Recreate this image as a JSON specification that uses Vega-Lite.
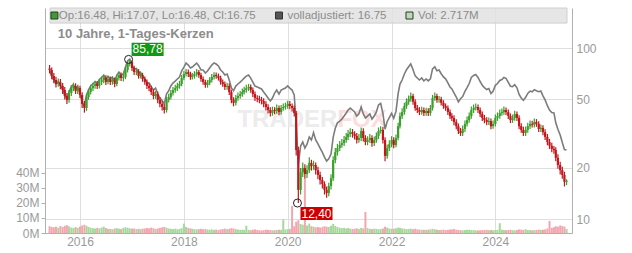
{
"$schema": "https://vega.github.io/schema/vega-lite/v6.json",
"width": 527, "height": 225,
"autosize": {"type": "none"},
"padding": {"left": 45, "top": 8, "right": 60, "bottom": 20},
"background": "white",
"config": {"font": "Liberation Sans", "view": {"stroke": null},
  "axis": {"labelFont": "Liberation Sans", "labelFontSize": 12, "labelColor": "#9a9a9a", "domainColor": "#b0b0b0", "tickColor": "#b0b0b0", "gridColor": "#dedede", "title": null}},
"data": {"values": [
{"d":"2015-06-01","o":76.0,"h":79.6,"l":71.0,"c":74.4,"a":74.4,"v":4.5},
{"d":"2015-06-16","o":74.4,"h":77.0,"l":65.7,"c":68.6,"a":68.6,"v":4.0},
{"d":"2015-07-01","o":68.6,"h":71.4,"l":62.2,"c":65.0,"a":65.0,"v":3.8},
{"d":"2015-07-16","o":65.0,"h":67.8,"l":58.8,"c":61.6,"a":61.8,"v":4.2},
{"d":"2015-08-01","o":61.6,"h":66.3,"l":59.3,"c":63.3,"a":63.6,"v":3.5},
{"d":"2015-08-16","o":63.3,"h":65.8,"l":57.3,"c":60.0,"a":60.6,"v":4.6},
{"d":"2015-09-01","o":60.0,"h":62.4,"l":53.9,"c":56.8,"a":57.5,"v":4.0},
{"d":"2015-09-16","o":56.8,"h":59.2,"l":50.0,"c":52.4,"a":53.1,"v":4.8},
{"d":"2015-10-01","o":52.4,"h":54.6,"l":47.0,"c":49.7,"a":50.4,"v":5.2},
{"d":"2015-10-16","o":49.7,"h":56.9,"l":47.8,"c":54.6,"a":55.4,"v":4.4},
{"d":"2015-11-01","o":54.6,"h":60.7,"l":52.4,"c":58.3,"a":59.4,"v":3.6},
{"d":"2015-11-16","o":58.3,"h":62.7,"l":55.9,"c":60.0,"a":61.2,"v":3.3},
{"d":"2015-12-01","o":60.0,"h":62.2,"l":53.9,"c":56.0,"a":57.2,"v":3.9},
{"d":"2015-12-16","o":56.0,"h":61.0,"l":53.9,"c":58.3,"a":59.5,"v":3.4},
{"d":"2016-01-01","o":58.3,"h":60.2,"l":51.0,"c":53.1,"a":54.2,"v":4.2},
{"d":"2016-01-16","o":53.1,"h":55.1,"l":44.6,"c":47.1,"a":48.2,"v":5.0},
{"d":"2016-02-01","o":47.1,"h":49.0,"l":41.9,"c":44.6,"a":45.8,"v":5.5},
{"d":"2016-02-16","o":44.6,"h":53.9,"l":42.9,"c":51.7,"a":53.1,"v":4.8},
{"d":"2016-03-01","o":51.7,"h":57.6,"l":49.8,"c":55.3,"a":56.9,"v":4.0},
{"d":"2016-03-16","o":55.3,"h":61.0,"l":53.4,"c":58.3,"a":60.0,"v":3.5},
{"d":"2016-04-01","o":58.3,"h":62.7,"l":56.1,"c":60.0,"a":61.8,"v":3.2},
{"d":"2016-04-16","o":60.0,"h":64.3,"l":57.8,"c":61.6,"a":63.5,"v":3.0},
{"d":"2016-05-01","o":61.6,"h":64.1,"l":57.6,"c":60.0,"a":61.9,"v":3.4},
{"d":"2016-05-16","o":60.0,"h":66.1,"l":58.0,"c":63.3,"a":65.3,"v":3.1},
{"d":"2016-06-01","o":63.3,"h":67.8,"l":60.8,"c":65.0,"a":67.4,"v":3.6},
{"d":"2016-06-16","o":65.0,"h":69.9,"l":62.2,"c":66.8,"a":69.3,"v":4.2},
{"d":"2016-07-01","o":66.8,"h":69.2,"l":60.8,"c":63.3,"a":65.7,"v":3.3},
{"d":"2016-07-16","o":63.3,"h":68.5,"l":61.3,"c":65.9,"a":68.4,"v":2.8},
{"d":"2016-08-01","o":65.9,"h":68.1,"l":60.8,"c":63.3,"a":65.8,"v":2.7},
{"d":"2016-08-16","o":63.3,"h":67.8,"l":61.0,"c":65.0,"a":67.6,"v":2.5},
{"d":"2016-09-01","o":65.0,"h":67.3,"l":59.0,"c":61.6,"a":64.1,"v":3.0},
{"d":"2016-09-16","o":61.6,"h":69.6,"l":59.8,"c":66.8,"a":69.5,"v":3.2},
{"d":"2016-10-01","o":66.8,"h":72.4,"l":64.5,"c":69.5,"a":72.3,"v":2.9},
{"d":"2016-10-16","o":69.5,"h":71.9,"l":64.2,"c":66.8,"a":69.5,"v":2.6},
{"d":"2016-11-01","o":66.8,"h":70.9,"l":63.7,"c":67.7,"a":70.5,"v":3.4},
{"d":"2016-11-16","o":67.7,"h":77.5,"l":65.7,"c":74.4,"a":77.4,"v":3.8},
{"d":"2016-12-01","o":74.4,"h":84.0,"l":72.0,"c":80.6,"a":83.9,"v":3.5},
{"d":"2016-12-16","o":80.6,"h":85.78,"l":77.9,"c":82.8,"a":86.2,"v":3.1},
{"d":"2017-01-01","o":82.8,"h":84.5,"l":73.5,"c":76.4,"a":79.5,"v":2.9},
{"d":"2017-01-16","o":76.4,"h":78.7,"l":69.6,"c":72.3,"a":75.3,"v":3.0},
{"d":"2017-02-01","o":72.3,"h":76.0,"l":69.4,"c":73.0,"a":76.0,"v":2.6},
{"d":"2017-02-16","o":73.0,"h":75.3,"l":66.2,"c":68.6,"a":71.4,"v":2.8},
{"d":"2017-03-01","o":68.6,"h":72.4,"l":66.4,"c":69.5,"a":72.3,"v":2.5},
{"d":"2017-03-16","o":69.5,"h":71.6,"l":63.5,"c":65.9,"a":68.6,"v":2.9},
{"d":"2017-04-01","o":65.9,"h":68.1,"l":61.0,"c":63.3,"a":66.1,"v":3.0},
{"d":"2017-04-16","o":63.3,"h":65.5,"l":57.6,"c":60.0,"a":62.9,"v":3.3},
{"d":"2017-05-01","o":60.0,"h":62.2,"l":55.9,"c":58.3,"a":62.4,"v":3.1},
{"d":"2017-05-16","o":58.3,"h":60.2,"l":53.1,"c":55.3,"a":59.5,"v":3.6},
{"d":"2017-06-01","o":55.3,"h":57.3,"l":50.2,"c":52.4,"a":56.8,"v":3.2},
{"d":"2017-06-16","o":52.4,"h":56.1,"l":50.5,"c":53.8,"a":58.3,"v":2.7},
{"d":"2017-07-01","o":53.8,"h":55.6,"l":47.5,"c":49.7,"a":53.9,"v":3.0},
{"d":"2017-07-16","o":49.7,"h":51.5,"l":45.1,"c":47.1,"a":51.1,"v":3.4},
{"d":"2017-08-01","o":47.1,"h":49.0,"l":43.1,"c":45.2,"a":49.2,"v":3.8},
{"d":"2017-08-16","o":45.2,"h":46.9,"l":41.4,"c":43.4,"a":47.2,"v":4.1},
{"d":"2017-09-01","o":43.4,"h":51.8,"l":41.9,"c":49.7,"a":54.0,"v":3.5},
{"d":"2017-09-16","o":49.7,"h":54.1,"l":48.0,"c":51.7,"a":56.2,"v":3.0},
{"d":"2017-10-01","o":51.7,"h":56.9,"l":50.0,"c":54.6,"a":60.0,"v":2.8},
{"d":"2017-10-16","o":54.6,"h":59.2,"l":52.7,"c":56.8,"a":62.4,"v":2.6},
{"d":"2017-11-01","o":56.8,"h":61.0,"l":54.7,"c":58.3,"a":64.1,"v":2.9},
{"d":"2017-11-16","o":58.3,"h":62.7,"l":56.1,"c":60.0,"a":65.9,"v":2.5},
{"d":"2017-12-01","o":60.0,"h":64.3,"l":57.8,"c":61.6,"a":67.7,"v":2.7},
{"d":"2017-12-16","o":61.6,"h":69.6,"l":59.8,"c":66.8,"a":73.4,"v":3.2},
{"d":"2018-01-01","o":66.8,"h":73.4,"l":64.7,"c":70.4,"a":77.4,"v":6.2},
{"d":"2018-01-16","o":70.4,"h":75.5,"l":68.1,"c":72.3,"a":81.6,"v":4.0},
{"d":"2018-02-01","o":72.3,"h":75.0,"l":67.6,"c":70.4,"a":79.5,"v":3.4},
{"d":"2018-02-16","o":70.4,"h":72.6,"l":65.2,"c":67.7,"a":76.4,"v":3.0},
{"d":"2018-03-01","o":67.7,"h":71.4,"l":65.5,"c":68.6,"a":77.4,"v":2.8},
{"d":"2018-03-16","o":68.6,"h":73.2,"l":66.2,"c":70.4,"a":79.5,"v":2.6},
{"d":"2018-04-01","o":70.4,"h":75.3,"l":67.8,"c":72.3,"a":81.6,"v":2.4},
{"d":"2018-04-16","o":72.3,"h":74.5,"l":67.1,"c":69.5,"a":78.5,"v":2.6},
{"d":"2018-05-01","o":69.5,"h":71.6,"l":63.5,"c":65.9,"a":74.4,"v":2.8},
{"d":"2018-05-16","o":65.9,"h":68.1,"l":61.0,"c":63.3,"a":74.4,"v":2.5},
{"d":"2018-06-01","o":63.3,"h":65.3,"l":58.6,"c":60.8,"a":71.4,"v":2.7},
{"d":"2018-06-16","o":60.8,"h":65.1,"l":58.6,"c":62.5,"a":73.4,"v":2.3},
{"d":"2018-07-01","o":62.5,"h":67.5,"l":60.6,"c":65.0,"a":76.4,"v":2.2},
{"d":"2018-07-16","o":65.0,"h":70.4,"l":62.9,"c":67.7,"a":79.5,"v":2.4},
{"d":"2018-08-01","o":67.7,"h":72.2,"l":65.5,"c":69.5,"a":81.7,"v":2.1},
{"d":"2018-08-16","o":69.5,"h":71.9,"l":66.2,"c":68.6,"a":80.6,"v":2.3},
{"d":"2018-09-01","o":68.6,"h":70.9,"l":64.5,"c":66.8,"a":78.5,"v":2.0},
{"d":"2018-09-16","o":66.8,"h":68.9,"l":61.0,"c":63.3,"a":74.4,"v":2.4},
{"d":"2018-10-01","o":63.3,"h":65.5,"l":59.3,"c":61.6,"a":72.4,"v":2.6},
{"d":"2018-10-16","o":61.6,"h":63.8,"l":56.8,"c":59.2,"a":69.6,"v":2.9},
{"d":"2018-11-01","o":59.2,"h":62.7,"l":57.0,"c":60.0,"a":70.5,"v":2.5},
{"d":"2018-11-16","o":60.0,"h":62.0,"l":53.1,"c":55.3,"a":65.0,"v":2.8},
{"d":"2018-12-01","o":55.3,"h":57.1,"l":47.5,"c":49.7,"a":58.4,"v":3.2},
{"d":"2018-12-16","o":49.7,"h":51.5,"l":45.6,"c":47.8,"a":56.2,"v":3.0},
{"d":"2019-01-01","o":47.8,"h":53.2,"l":46.1,"c":51.0,"a":59.9,"v":2.6},
{"d":"2019-01-16","o":51.0,"h":54.9,"l":49.2,"c":52.4,"a":61.6,"v":2.3},
{"d":"2019-02-01","o":52.4,"h":56.1,"l":50.5,"c":53.8,"a":63.2,"v":2.1},
{"d":"2019-02-16","o":53.8,"h":57.9,"l":51.9,"c":55.3,"a":65.0,"v":2.2},
{"d":"2019-03-01","o":55.3,"h":59.4,"l":53.4,"c":56.8,"a":66.7,"v":2.0},
{"d":"2019-03-16","o":56.8,"h":61.0,"l":54.7,"c":58.3,"a":68.5,"v":4.8},
{"d":"2019-04-01","o":58.3,"h":61.7,"l":56.1,"c":59.2,"a":69.6,"v":2.1},
{"d":"2019-04-16","o":59.2,"h":61.2,"l":54.7,"c":56.8,"a":66.7,"v":1.9},
{"d":"2019-05-01","o":56.8,"h":58.7,"l":51.7,"c":53.8,"a":63.2,"v":2.2},
{"d":"2019-05-16","o":53.8,"h":55.6,"l":49.0,"c":51.0,"a":59.9,"v":2.4},
{"d":"2019-06-01","o":51.0,"h":53.0,"l":48.2,"c":50.4,"a":59.2,"v":2.0},
{"d":"2019-06-16","o":50.4,"h":52.5,"l":47.5,"c":49.7,"a":58.4,"v":1.8},
{"d":"2019-07-01","o":49.7,"h":51.8,"l":46.8,"c":49.0,"a":57.6,"v":1.7},
{"d":"2019-07-16","o":49.0,"h":50.8,"l":45.1,"c":47.1,"a":55.3,"v":1.9},
{"d":"2019-08-01","o":47.1,"h":48.8,"l":43.1,"c":45.2,"a":53.1,"v":2.2},
{"d":"2019-08-16","o":45.2,"h":46.9,"l":41.4,"c":43.4,"a":51.0,"v":2.1},
{"d":"2019-09-01","o":43.4,"h":45.1,"l":39.8,"c":41.7,"a":49.0,"v":2.0},
{"d":"2019-09-16","o":41.7,"h":45.4,"l":40.2,"c":43.4,"a":51.0,"v":1.8},
{"d":"2019-10-01","o":43.4,"h":45.1,"l":41.0,"c":42.8,"a":54.5,"v":1.9},
{"d":"2019-10-16","o":42.8,"h":46.7,"l":41.2,"c":44.6,"a":56.8,"v":2.0},
{"d":"2019-11-01","o":44.6,"h":46.1,"l":40.4,"c":42.2,"a":53.8,"v":2.2},
{"d":"2019-11-16","o":42.2,"h":46.5,"l":40.7,"c":44.6,"a":56.8,"v":2.1},
{"d":"2019-12-01","o":44.6,"h":47.3,"l":42.9,"c":45.2,"a":57.6,"v":9.0},
{"d":"2019-12-16","o":45.2,"h":47.9,"l":43.6,"c":45.8,"a":58.3,"v":2.4},
{"d":"2020-01-01","o":45.8,"h":49.2,"l":44.1,"c":47.1,"a":60.0,"v":2.5},
{"d":"2020-01-16","o":47.1,"h":49.0,"l":43.9,"c":45.8,"a":58.3,"v":2.7},
{"d":"2020-02-01","o":45.8,"h":47.4,"l":42.6,"c":44.6,"a":56.8,"v":18.0},
{"d":"2020-02-16","o":44.6,"h":46.1,"l":39.7,"c":41.7,"a":53.1,"v":4.5},
{"d":"2020-03-01","o":41.7,"h":42.8,"l":23.5,"c":25.3,"a":36.0,"v":7.5},
{"d":"2020-03-16","o":25.3,"h":26.5,"l":12.4,"c":14.8,"a":21.0,"v":8.5},
{"d":"2020-04-01","o":14.8,"h":19.9,"l":13.9,"c":18.8,"a":26.7,"v":6.0},
{"d":"2020-04-16","o":18.8,"h":21.4,"l":17.6,"c":19.9,"a":28.2,"v":5.5},
{"d":"2020-05-01","o":19.9,"h":20.9,"l":17.2,"c":18.3,"a":26.0,"v":36.0},
{"d":"2020-05-16","o":18.3,"h":20.6,"l":17.4,"c":19.3,"a":27.4,"v":5.0},
{"d":"2020-06-01","o":19.3,"h":23.0,"l":18.6,"c":21.3,"a":30.2,"v":6.2},
{"d":"2020-06-16","o":21.3,"h":22.2,"l":19.2,"c":20.4,"a":29.0,"v":4.5},
{"d":"2020-07-01","o":20.4,"h":21.9,"l":19.4,"c":20.7,"a":32.0,"v":4.2},
{"d":"2020-07-16","o":20.7,"h":21.4,"l":18.2,"c":19.3,"a":29.0,"v":3.8},
{"d":"2020-08-01","o":19.3,"h":20.2,"l":17.1,"c":18.1,"a":27.5,"v":4.0},
{"d":"2020-08-16","o":18.1,"h":18.9,"l":15.9,"c":16.9,"a":26.0,"v":3.6},
{"d":"2020-09-01","o":16.9,"h":17.6,"l":15.1,"c":16.0,"a":24.5,"v":3.9},
{"d":"2020-09-16","o":16.0,"h":16.6,"l":13.9,"c":14.8,"a":23.0,"v":4.5},
{"d":"2020-10-01","o":14.8,"h":15.5,"l":13.3,"c":14.2,"a":21.8,"v":4.2},
{"d":"2020-10-16","o":14.2,"h":16.3,"l":13.6,"c":15.6,"a":22.5,"v":4.0},
{"d":"2020-11-01","o":15.6,"h":18.3,"l":14.9,"c":17.3,"a":24.0,"v":4.8},
{"d":"2020-11-16","o":17.3,"h":23.3,"l":16.7,"c":22.1,"a":30.0,"v":6.0},
{"d":"2020-12-01","o":22.1,"h":26.0,"l":21.2,"c":24.6,"a":34.0,"v":4.6},
{"d":"2020-12-16","o":24.6,"h":27.5,"l":23.5,"c":26.0,"a":36.5,"v":3.9},
{"d":"2021-01-01","o":26.0,"h":28.6,"l":25.0,"c":27.1,"a":37.4,"v":3.5},
{"d":"2021-01-16","o":27.1,"h":29.4,"l":26.1,"c":27.8,"a":38.4,"v":3.2},
{"d":"2021-02-01","o":27.8,"h":30.6,"l":26.7,"c":29.0,"a":40.0,"v":3.4},
{"d":"2021-02-16","o":29.0,"h":31.8,"l":27.9,"c":30.2,"a":41.7,"v":3.0},
{"d":"2021-03-01","o":30.2,"h":33.2,"l":29.0,"c":31.4,"a":43.4,"v":3.3},
{"d":"2021-03-16","o":31.4,"h":34.0,"l":30.2,"c":32.2,"a":44.5,"v":2.9},
{"d":"2021-04-01","o":32.2,"h":33.6,"l":29.9,"c":31.4,"a":43.4,"v":2.7},
{"d":"2021-04-16","o":31.4,"h":32.6,"l":29.2,"c":30.6,"a":42.3,"v":2.8},
{"d":"2021-05-01","o":30.6,"h":31.8,"l":27.6,"c":29.0,"a":40.0,"v":3.1},
{"d":"2021-05-16","o":29.0,"h":31.4,"l":27.9,"c":29.8,"a":41.2,"v":2.6},
{"d":"2021-06-01","o":29.8,"h":34.3,"l":28.6,"c":32.7,"a":45.2,"v":3.4},
{"d":"2021-06-16","o":32.7,"h":33.9,"l":28.4,"c":29.8,"a":41.2,"v":3.0},
{"d":"2021-07-01","o":29.8,"h":30.9,"l":27.0,"c":28.2,"a":39.0,"v":14.0},
{"d":"2021-07-16","o":28.2,"h":30.5,"l":27.0,"c":29.0,"a":40.0,"v":3.2},
{"d":"2021-08-01","o":29.0,"h":31.4,"l":27.8,"c":29.8,"a":41.2,"v":2.8},
{"d":"2021-08-16","o":29.8,"h":30.9,"l":26.5,"c":27.8,"a":38.4,"v":2.6},
{"d":"2021-09-01","o":27.8,"h":30.4,"l":26.7,"c":29.0,"a":40.0,"v":2.9},
{"d":"2021-09-16","o":29.0,"h":32.1,"l":27.9,"c":30.6,"a":42.3,"v":2.7},
{"d":"2021-10-01","o":30.6,"h":34.3,"l":29.4,"c":32.7,"a":46.5,"v":2.5},
{"d":"2021-10-16","o":32.7,"h":34.9,"l":31.6,"c":33.2,"a":47.5,"v":2.6},
{"d":"2021-11-01","o":33.2,"h":34.5,"l":27.6,"c":29.0,"a":41.5,"v":3.0},
{"d":"2021-11-16","o":29.0,"h":30.1,"l":21.8,"c":23.4,"a":33.5,"v":4.2},
{"d":"2021-12-01","o":23.4,"h":27.3,"l":22.5,"c":26.0,"a":37.2,"v":3.6},
{"d":"2021-12-16","o":26.0,"h":28.9,"l":25.0,"c":27.4,"a":39.2,"v":3.0},
{"d":"2022-01-01","o":27.4,"h":30.5,"l":26.3,"c":29.0,"a":41.5,"v":2.8},
{"d":"2022-01-16","o":29.0,"h":30.1,"l":25.9,"c":27.1,"a":38.8,"v":2.9},
{"d":"2022-02-01","o":27.1,"h":31.2,"l":26.3,"c":29.8,"a":42.6,"v":3.1},
{"d":"2022-02-16","o":29.8,"h":36.5,"l":28.9,"c":34.9,"a":54.1,"v":3.6},
{"d":"2022-03-01","o":34.9,"h":42.0,"l":33.8,"c":40.0,"a":61.5,"v":3.4},
{"d":"2022-03-16","o":40.0,"h":44.4,"l":38.4,"c":42.2,"a":65.0,"v":3.0},
{"d":"2022-04-01","o":42.2,"h":47.9,"l":40.7,"c":45.8,"a":70.5,"v":2.8},
{"d":"2022-04-16","o":45.8,"h":50.8,"l":44.1,"c":48.5,"a":74.7,"v":2.6},
{"d":"2022-05-01","o":48.5,"h":52.8,"l":46.6,"c":50.4,"a":77.6,"v":2.7},
{"d":"2022-05-16","o":50.4,"h":54.9,"l":48.5,"c":52.4,"a":80.7,"v":2.9},
{"d":"2022-06-01","o":52.4,"h":54.1,"l":46.6,"c":48.5,"a":74.7,"v":2.5},
{"d":"2022-06-16","o":48.5,"h":50.2,"l":42.9,"c":44.6,"a":68.7,"v":2.8},
{"d":"2022-07-01","o":44.6,"h":46.4,"l":41.7,"c":43.4,"a":66.8,"v":2.4},
{"d":"2022-07-16","o":43.4,"h":45.1,"l":40.5,"c":42.2,"a":65.0,"v":2.3},
{"d":"2022-08-01","o":42.2,"h":45.4,"l":40.7,"c":43.4,"a":66.8,"v":2.1},
{"d":"2022-08-16","o":43.4,"h":44.9,"l":40.0,"c":41.7,"a":64.2,"v":2.2},
{"d":"2022-09-01","o":41.7,"h":44.7,"l":40.2,"c":42.8,"a":65.9,"v":2.0},
{"d":"2022-09-16","o":42.8,"h":44.4,"l":40.0,"c":41.7,"a":64.2,"v":2.3},
{"d":"2022-10-01","o":41.7,"h":46.5,"l":40.2,"c":44.6,"a":66.0,"v":2.4},
{"d":"2022-10-16","o":44.6,"h":53.2,"l":43.1,"c":51.0,"a":75.5,"v":2.8},
{"d":"2022-11-01","o":51.0,"h":54.9,"l":49.2,"c":52.4,"a":77.6,"v":2.5},
{"d":"2022-11-16","o":52.4,"h":54.1,"l":47.8,"c":49.7,"a":73.6,"v":2.2},
{"d":"2022-12-01","o":49.7,"h":52.4,"l":47.8,"c":50.2,"a":74.3,"v":2.0},
{"d":"2022-12-16","o":50.2,"h":51.8,"l":46.1,"c":47.8,"a":70.7,"v":2.1},
{"d":"2023-01-01","o":47.8,"h":49.5,"l":44.1,"c":45.8,"a":67.8,"v":2.2},
{"d":"2023-01-16","o":45.8,"h":47.4,"l":42.9,"c":44.6,"a":66.0,"v":2.0},
{"d":"2023-02-01","o":44.6,"h":46.1,"l":40.6,"c":42.2,"a":62.5,"v":2.1},
{"d":"2023-02-16","o":42.2,"h":43.7,"l":38.4,"c":40.0,"a":59.2,"v":2.3},
{"d":"2023-03-01","o":40.0,"h":41.6,"l":37.4,"c":39.0,"a":57.7,"v":2.4},
{"d":"2023-03-16","o":39.0,"h":40.4,"l":35.3,"c":36.9,"a":54.6,"v":2.6},
{"d":"2023-04-01","o":36.9,"h":38.3,"l":33.5,"c":34.9,"a":51.7,"v":2.2},
{"d":"2023-04-16","o":34.9,"h":36.2,"l":31.4,"c":32.7,"a":48.4,"v":2.0},
{"d":"2023-05-01","o":32.7,"h":34.1,"l":30.6,"c":31.8,"a":50.5,"v":1.9},
{"d":"2023-05-16","o":31.8,"h":35.2,"l":30.6,"c":33.6,"a":52.0,"v":1.8},
{"d":"2023-06-01","o":33.6,"h":37.7,"l":32.3,"c":36.0,"a":55.8,"v":2.0},
{"d":"2023-06-16","o":36.0,"h":39.8,"l":34.7,"c":37.9,"a":58.7,"v":2.1},
{"d":"2023-07-01","o":37.9,"h":42.0,"l":36.5,"c":40.0,"a":62.0,"v":2.2},
{"d":"2023-07-16","o":40.0,"h":45.5,"l":38.6,"c":43.4,"a":67.3,"v":2.0},
{"d":"2023-08-01","o":43.4,"h":46.7,"l":41.7,"c":44.6,"a":69.1,"v":1.9},
{"d":"2023-08-16","o":44.6,"h":47.4,"l":43.1,"c":45.2,"a":70.0,"v":1.8},
{"d":"2023-09-01","o":45.2,"h":46.7,"l":41.7,"c":43.4,"a":67.3,"v":1.7},
{"d":"2023-09-16","o":43.4,"h":44.9,"l":39.5,"c":41.1,"a":63.7,"v":1.8},
{"d":"2023-10-01","o":41.1,"h":42.6,"l":37.4,"c":39.0,"a":60.5,"v":1.9},
{"d":"2023-10-16","o":39.0,"h":40.6,"l":36.3,"c":37.9,"a":58.7,"v":2.0},
{"d":"2023-11-01","o":37.9,"h":39.4,"l":35.4,"c":36.9,"a":57.2,"v":2.1},
{"d":"2023-11-16","o":36.9,"h":39.2,"l":35.5,"c":37.4,"a":58.0,"v":1.9},
{"d":"2023-12-01","o":37.4,"h":38.7,"l":33.5,"c":34.9,"a":54.1,"v":2.0},
{"d":"2023-12-16","o":34.9,"h":37.7,"l":33.7,"c":36.0,"a":55.8,"v":1.8},
{"d":"2024-01-01","o":36.0,"h":40.8,"l":34.8,"c":39.0,"a":60.5,"v":2.0},
{"d":"2024-01-16","o":39.0,"h":42.0,"l":37.5,"c":40.0,"a":62.0,"v":2.1},
{"d":"2024-02-01","o":40.0,"h":43.7,"l":38.6,"c":41.7,"a":64.6,"v":6.5},
{"d":"2024-02-16","o":41.7,"h":44.3,"l":40.2,"c":42.2,"a":65.4,"v":2.2},
{"d":"2024-03-01","o":42.2,"h":45.5,"l":40.7,"c":43.4,"a":67.3,"v":2.0},
{"d":"2024-03-16","o":43.4,"h":44.9,"l":40.6,"c":42.2,"a":66.5,"v":1.9},
{"d":"2024-04-01","o":42.2,"h":43.7,"l":38.4,"c":40.0,"a":63.0,"v":2.0},
{"d":"2024-04-16","o":40.0,"h":41.4,"l":36.4,"c":37.9,"a":59.8,"v":2.2},
{"d":"2024-05-01","o":37.9,"h":40.8,"l":36.5,"c":39.0,"a":59.5,"v":1.9},
{"d":"2024-05-16","o":39.0,"h":43.0,"l":37.6,"c":41.1,"a":61.0,"v":1.8},
{"d":"2024-06-01","o":41.1,"h":42.6,"l":37.4,"c":39.0,"a":58.5,"v":2.0},
{"d":"2024-06-16","o":39.0,"h":40.4,"l":33.5,"c":34.9,"a":53.5,"v":2.4},
{"d":"2024-07-01","o":34.9,"h":36.3,"l":31.9,"c":33.2,"a":51.0,"v":2.2},
{"d":"2024-07-16","o":33.2,"h":34.6,"l":30.6,"c":31.8,"a":49.5,"v":2.1},
{"d":"2024-08-01","o":31.8,"h":34.8,"l":30.6,"c":33.2,"a":51.5,"v":2.5},
{"d":"2024-08-16","o":33.2,"h":36.5,"l":31.9,"c":34.9,"a":54.3,"v":2.0},
{"d":"2024-09-01","o":34.9,"h":37.7,"l":33.6,"c":36.0,"a":56.0,"v":1.9},
{"d":"2024-09-16","o":36.0,"h":37.5,"l":34.3,"c":35.6,"a":55.5,"v":1.8},
{"d":"2024-10-01","o":35.6,"h":38.7,"l":34.3,"c":36.9,"a":57.0,"v":1.9},
{"d":"2024-10-16","o":36.9,"h":38.4,"l":34.6,"c":36.0,"a":56.2,"v":2.0},
{"d":"2024-11-01","o":36.0,"h":37.3,"l":32.3,"c":33.6,"a":55.5,"v":2.3},
{"d":"2024-11-16","o":33.6,"h":35.7,"l":32.3,"c":34.1,"a":56.0,"v":2.1},
{"d":"2024-12-01","o":34.1,"h":35.4,"l":30.9,"c":32.2,"a":52.5,"v":2.2},
{"d":"2024-12-16","o":32.2,"h":33.5,"l":29.0,"c":30.2,"a":49.7,"v":2.4},
{"d":"2025-01-01","o":30.2,"h":31.4,"l":27.0,"c":28.2,"a":46.0,"v":3.0},
{"d":"2025-01-16","o":28.2,"h":29.4,"l":25.7,"c":26.8,"a":43.4,"v":8.0},
{"d":"2025-02-01","o":26.8,"h":27.9,"l":24.6,"c":25.7,"a":42.0,"v":3.5},
{"d":"2025-02-16","o":25.7,"h":26.7,"l":24.1,"c":25.3,"a":41.7,"v":3.8},
{"d":"2025-03-01","o":25.3,"h":26.3,"l":21.8,"c":22.8,"a":36.5,"v":4.5},
{"d":"2025-03-16","o":22.8,"h":23.9,"l":19.7,"c":20.7,"a":33.5,"v":4.2},
{"d":"2025-04-01","o":20.7,"h":21.6,"l":18.2,"c":19.3,"a":31.0,"v":5.0},
{"d":"2025-04-16","o":19.3,"h":20.2,"l":17.2,"c":18.1,"a":28.0,"v":4.6},
{"d":"2025-05-01","o":18.1,"h":18.9,"l":15.5,"c":16.5,"a":25.5,"v":4.2},
{"d":"2025-05-16","o":16.5,"h":17.07,"l":15.8,"c":16.75,"a":25.3,"v":2.7}
]},
"resolve": {"scale": {"y": "independent"}},
"layer": [
 {"mark": {"type": "bar", "width": 2, "clip": true},
  "encoding": {
   "x": {"field": "d", "type": "temporal",
     "scale": {"domain": [{"year":2015,"month":6,"date":4},{"year":2025,"month":5,"date":19}]},
     "axis": {"values": [{"year":2016},{"year":2018},{"year":2020},{"year":2022},{"year":2024}], "format": "%Y", "grid": true, "ticks": false, "tickSize": 0, "labelPadding": 3, "labelFlush": false}},
   "y": {"field": "v", "type": "quantitative", "scale": {"domain": [0, 149.3], "nice": false},
     "axis": {"orient": "left", "values": [0,10,20,30,40], "labelExpr": "datum.value + 'M'", "grid": false, "tickSize": 4, "labelPadding": 2}},
   "color": {"condition": {"test": "datum.c >= datum.o", "value": "#a6d89c"}, "value": "#f2a6ae"}
  }},
 {"layer": [
  {"data": {"values": [{}]},
   "mark": {"type": "text", "text": "TRADER", "align": "right", "baseline": "middle", "fontSize": 24, "fontWeight": "bold", "color": "#ececec"},
   "encoding": {
     "x": {"datum": {"year":2020,"month":12,"date":16}, "type": "temporal", "scale": {"domain": [{"year":2015,"month":6,"date":4},{"year":2025,"month":5,"date":19}]}},
     "y": {"datum": 37.9, "type": "quantitative", "scale": {"type": "log", "domain": [8.283, 171.4], "nice": false},
       "axis": {"orient": "right", "values": [10,20,50,100], "format": "d", "grid": true, "ticks": false, "tickSize": 0, "labelPadding": 4}}}},
  {"data": {"values": [{}]},
   "mark": {"type": "text", "text": "FOX", "align": "left", "baseline": "middle", "fontSize": 24, "fontWeight": "bold", "color": "#fadede"},
   "encoding": {
     "x": {"datum": {"year":2020,"month":12,"date":16}, "type": "temporal"},
     "y": {"datum": 37.9, "type": "quantitative", "scale": {"type": "log", "domain": [8.283, 171.4], "nice": false}}}},
  {"mark": {"type": "line", "stroke": "#7c7c7c", "strokeWidth": 1.6, "clip": true},
   "encoding": {
     "x": {"field": "d", "type": "temporal"},
     "y": {"field": "a", "type": "quantitative", "scale": {"type": "log", "domain": [8.283, 171.4], "nice": false}}}},
  {"mark": {"type": "rule", "strokeWidth": 1.2, "clip": true},
   "encoding": {
     "x": {"field": "d", "type": "temporal"},
     "y": {"field": "l", "type": "quantitative", "scale": {"type": "log", "domain": [8.283, 171.4], "nice": false}},
     "y2": {"field": "h"},
     "color": {"condition": {"test": "datum.c >= datum.o", "value": "#3b9f2b"}, "value": "#c2161c"}}},
  {"mark": {"type": "rule", "strokeWidth": 2.2, "clip": true},
   "encoding": {
     "x": {"field": "d", "type": "temporal"},
     "y": {"field": "o", "type": "quantitative", "scale": {"type": "log", "domain": [8.283, 171.4], "nice": false}},
     "y2": {"field": "c"},
     "color": {"condition": {"test": "datum.c >= datum.o", "value": "#3b9f2b"}, "value": "#c2161c"}}},
  {"data": {"values": [{}]},
   "mark": {"type": "rect", "fill": "#e2e2e2", "fillOpacity": 0.85, "stroke": "#cfcfcf", "strokeWidth": 1},
   "encoding": {
     "x": {"datum": {"year":2015,"month":6,"date":4}, "type": "temporal"},
     "x2": {"datum": {"year":2025,"month":5,"date":19}},
     "y": {"datum": 171.4, "type": "quantitative", "scale": {"type": "log", "domain": [8.283, 171.4], "nice": false}},
     "y2": {"datum": 139.9}}},
  {"data": {"values": [{}]},
   "mark": {"type": "point", "shape": "square", "size": 49, "filled": true, "fill": "#3b9f2b", "stroke": "#333", "strokeWidth": 1, "opacity": 1},
   "encoding": {
     "x": {"datum": {"year":2015,"month":7,"date":5}, "type": "temporal"},
     "y": {"datum": 154.9, "type": "quantitative", "scale": {"type": "log", "domain": [8.283, 171.4], "nice": false}}}},
  {"data": {"values": [{}]},
   "mark": {"type": "point", "shape": "square", "size": 49, "filled": true, "fill": "#555555", "stroke": "#333", "strokeWidth": 1, "opacity": 1},
   "encoding": {
     "x": {"datum": {"year":2019,"month":11,"date":1}, "type": "temporal"},
     "y": {"datum": 154.9, "type": "quantitative", "scale": {"type": "log", "domain": [8.283, 171.4], "nice": false}}}},
  {"data": {"values": [{}]},
   "mark": {"type": "point", "shape": "square", "size": 49, "filled": true, "fill": "#b5e0ad", "stroke": "#333", "strokeWidth": 1, "opacity": 1},
   "encoding": {
     "x": {"datum": {"year":2022,"month":5,"date":7}, "type": "temporal"},
     "y": {"datum": 154.9, "type": "quantitative", "scale": {"type": "log", "domain": [8.283, 171.4], "nice": false}}}},
  {"data": {"values": [{}]},
   "mark": {"type": "text", "text": "Op:16.48, Hi:17.07, Lo:16.48, Cl:16.75", "align": "left", "baseline": "middle", "fontSize": 11.5, "color": "#8c8c8c"},
   "encoding": {
     "x": {"datum": {"year":2015,"month":8,"date":5}, "type": "temporal"},
     "y": {"datum": 154.9, "type": "quantitative", "scale": {"type": "log", "domain": [8.283, 171.4], "nice": false}}}},
  {"data": {"values": [{}]},
   "mark": {"type": "text", "text": "volladjustiert: 16.75", "align": "left", "baseline": "middle", "fontSize": 11.5, "color": "#8c8c8c"},
   "encoding": {
     "x": {"datum": {"year":2019,"month":12,"date":30}, "type": "temporal"},
     "y": {"datum": 154.9, "type": "quantitative", "scale": {"type": "log", "domain": [8.283, 171.4], "nice": false}}}},
  {"data": {"values": [{}]},
   "mark": {"type": "text", "text": "Vol: 2.717M", "align": "left", "baseline": "middle", "fontSize": 11.5, "color": "#8c8c8c"},
   "encoding": {
     "x": {"datum": {"year":2022,"month":7,"date":5}, "type": "temporal"},
     "y": {"datum": 154.9, "type": "quantitative", "scale": {"type": "log", "domain": [8.283, 171.4], "nice": false}}}},
  {"data": {"values": [{}]},
   "mark": {"type": "text", "text": "10 Jahre, 1-Tages-Kerzen", "align": "left", "baseline": "middle", "fontSize": 13, "fontWeight": "bold", "color": "#8c8c8c"},
   "encoding": {
     "x": {"datum": {"year":2015,"month":7,"date":29}, "type": "temporal"},
     "y": {"datum": 120.8, "type": "quantitative", "scale": {"type": "log", "domain": [8.283, 171.4], "nice": false}}}},
  {"data": {"values": [{"d": "2016-12-08", "p": 85.78}, {"d": "2020-03-10", "p": 12.4}]},
   "mark": {"type": "point", "shape": "circle", "size": 64, "filled": false, "stroke": "#222", "strokeWidth": 1, "opacity": 1},
   "encoding": {
     "x": {"field": "d", "type": "temporal"},
     "y": {"field": "p", "type": "quantitative", "scale": {"type": "log", "domain": [8.283, 171.4], "nice": false}}}},
  {"data": {"values": [{"d": "2016-12-08", "p": 85.78, "t": "85,78"}]},
   "layer": [
    {"mark": {"type": "point", "shape": "M-1,-0.41H1V0.41H-1Z", "size": 1024, "filled": true, "fill": "#0f9a0f", "strokeWidth": 0, "opacity": 1, "xOffset": 19, "yOffset": -10},
     "encoding": {"x": {"field": "d", "type": "temporal"}, "y": {"field": "p", "type": "quantitative", "scale": {"type": "log", "domain": [8.283, 171.4], "nice": false}}}},
    {"mark": {"type": "text", "fontSize": 12, "color": "white", "align": "center", "baseline": "middle", "dx": 19, "dy": -10},
     "encoding": {"x": {"field": "d", "type": "temporal"}, "y": {"field": "p", "type": "quantitative", "scale": {"type": "log", "domain": [8.283, 171.4], "nice": false}}, "text": {"field": "t"}}}
   ]},
  {"data": {"values": [{"d": "2020-03-10", "p": 12.4, "t": "12,40"}]},
   "layer": [
    {"mark": {"type": "point", "shape": "M-1,-0.41H1V0.41H-1Z", "size": 1024, "filled": true, "fill": "#cc0000", "strokeWidth": 0, "opacity": 1, "xOffset": 19, "yOffset": 10.5},
     "encoding": {"x": {"field": "d", "type": "temporal"}, "y": {"field": "p", "type": "quantitative", "scale": {"type": "log", "domain": [8.283, 171.4], "nice": false}}}},
    {"mark": {"type": "text", "fontSize": 12, "color": "white", "align": "center", "baseline": "middle", "dx": 19, "dy": 10.5},
     "encoding": {"x": {"field": "d", "type": "temporal"}, "y": {"field": "p", "type": "quantitative", "scale": {"type": "log", "domain": [8.283, 171.4], "nice": false}}, "text": {"field": "t"}}}
   ]}
 ]}
]
}
